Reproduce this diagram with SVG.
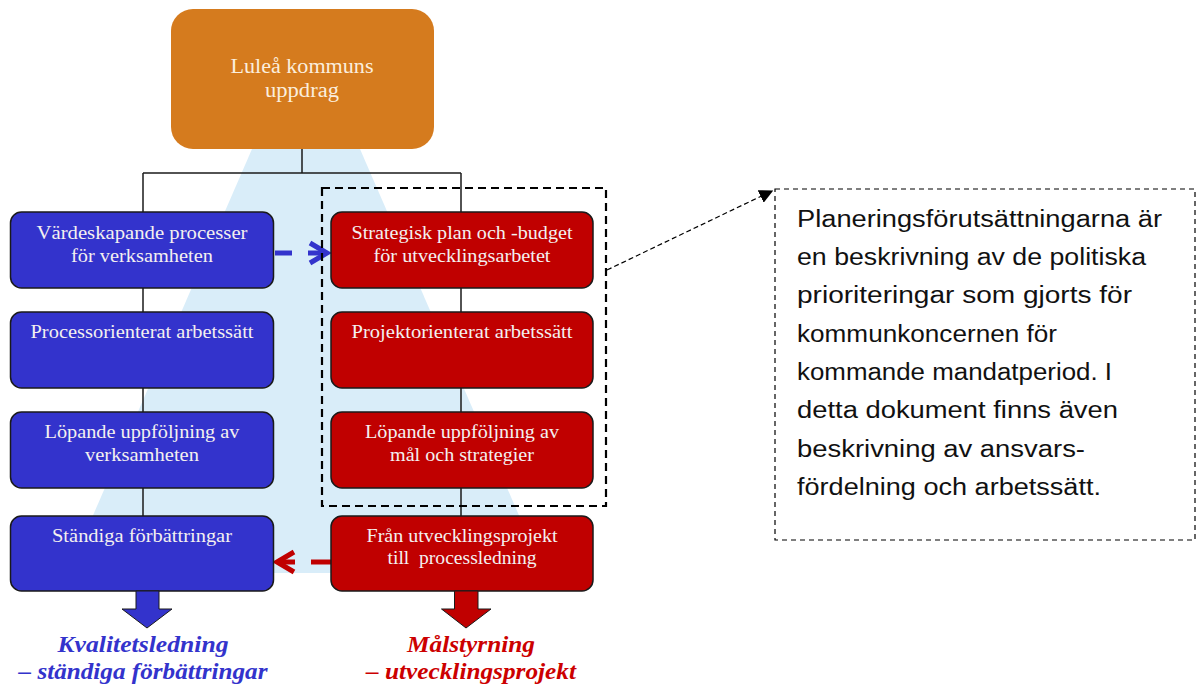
<svg xmlns="http://www.w3.org/2000/svg" width="1197" height="687" viewBox="0 0 1197 687">
<defs>
<style>
.bt{font-family:"Liberation Serif","Times New Roman",serif;font-size:19.5px;fill:#F4F0F0;text-anchor:middle}
.blue{fill:#3333CC;stroke:#1a1a1a;stroke-width:1.5}
.red{fill:#C00000;stroke:#1a1a1a;stroke-width:1.5}
.ln{stroke:#1a1a1a;stroke-width:1.5;fill:none}
.lab{font-family:"Liberation Serif","Times New Roman",serif;font-size:24px;font-style:italic;font-weight:bold;text-anchor:middle}
.note{font-family:"Liberation Sans",Arial,sans-serif;font-size:23px;fill:#111}
</style>
<marker id="ah" viewBox="0 0 10 10" refX="9" refY="5" markerWidth="14" markerHeight="14" markerUnits="userSpaceOnUse" orient="auto">
<path d="M0,0 L10,5 L0,10 z" fill="#000"/>
</marker>
</defs>
<rect width="1197" height="687" fill="#fff"/>
<polygon points="252,149 360,149 544,573 68,573" fill="#D9EDF9"/>
<g id="connectors">
<line class="ln" x1="302" y1="149" x2="302" y2="173"/>
<line class="ln" x1="143" y1="173" x2="461" y2="173"/>
<line class="ln" x1="143" y1="173" x2="143" y2="516"/>
<line class="ln" x1="461" y1="173" x2="461" y2="516"/>
<g stroke="#3333CC" stroke-width="5" fill="none">
<line x1="275" y1="253" x2="292" y2="253"/>
<line x1="308" y1="253" x2="327" y2="253"/>
<polyline points="310,243 327,253 310,263" stroke-linejoin="miter"/>
</g>
<g stroke="#C00000" stroke-width="5" fill="none">
<line x1="331" y1="562" x2="311" y2="562"/>
<line x1="295" y1="562" x2="277" y2="562"/>
<polyline points="294,552 277,562 294,572"/>
</g>
<line x1="607" y1="270" x2="772" y2="191" stroke="#000" stroke-width="1.2" stroke-dasharray="5,3" marker-end="url(#ah)"/>
</g>
<g id="n-top">
<rect x="171" y="9" width="263" height="140" rx="22" fill="#D57B1E"/>
<text class="bt" x="302" y="73" style="font-size:20.5px;fill:#FBEEDD" textLength="143" lengthAdjust="spacingAndGlyphs">Luleå kommuns</text>
<text class="bt" x="302" y="97" style="font-size:20.5px;fill:#FBEEDD" textLength="74" lengthAdjust="spacingAndGlyphs">uppdrag</text>
</g>
<g id="n-b1">
<rect class="blue" x="10.5" y="212" width="263" height="76" rx="11"/>
<text class="bt" x="142" y="239" textLength="211" lengthAdjust="spacingAndGlyphs">Värdeskapande processer</text>
<text class="bt" x="142" y="262" textLength="142" lengthAdjust="spacingAndGlyphs">för verksamheten</text>
</g>
<g id="n-b2">
<rect class="blue" x="10.5" y="312" width="263" height="76" rx="11"/>
<text class="bt" x="142" y="338" textLength="223" lengthAdjust="spacingAndGlyphs">Processorienterat arbetssätt</text>
</g>
<g id="n-b3">
<rect class="blue" x="10.5" y="412" width="263" height="76" rx="11"/>
<text class="bt" x="142" y="438" textLength="195" lengthAdjust="spacingAndGlyphs">Löpande uppföljning av</text>
<text class="bt" x="142" y="461" textLength="114" lengthAdjust="spacingAndGlyphs">verksamheten</text>
</g>
<g id="n-b4">
<rect class="blue" x="10.5" y="516" width="263" height="75" rx="11"/>
<text class="bt" x="142" y="542" textLength="180" lengthAdjust="spacingAndGlyphs">Ständiga förbättringar</text>
</g>
<g id="n-r1">
<rect class="red" x="331" y="212" width="262" height="76" rx="11"/>
<text class="bt" x="462" y="239" textLength="221" lengthAdjust="spacingAndGlyphs">Strategisk plan och -budget</text>
<text class="bt" x="462" y="262" textLength="177" lengthAdjust="spacingAndGlyphs">för utvecklingsarbetet</text>
</g>
<g id="n-r2">
<rect class="red" x="331" y="312" width="262" height="76" rx="11"/>
<text class="bt" x="462" y="338" textLength="221" lengthAdjust="spacingAndGlyphs">Projektorienterat arbetssätt</text>
</g>
<g id="n-r3">
<rect class="red" x="331" y="412" width="262" height="76" rx="11"/>
<text class="bt" x="462" y="438" textLength="194" lengthAdjust="spacingAndGlyphs">Löpande uppföljning av</text>
<text class="bt" x="462" y="461" textLength="144" lengthAdjust="spacingAndGlyphs">mål och strategier</text>
</g>
<g id="n-r4">
<rect class="red" x="331" y="516" width="262" height="75" rx="11"/>
<text class="bt" x="462" y="542" textLength="191" lengthAdjust="spacingAndGlyphs">Från utvecklingsprojekt</text>
<text class="bt" x="462" y="564" textLength="149" lengthAdjust="spacingAndGlyphs">till&#160; processledning</text>
</g>
<g id="n-group">
<rect x="322" y="188" width="284" height="318" fill="none" stroke="#000" stroke-width="2.2" stroke-dasharray="8,5"/>
</g>
<g id="n-arrow-blue">
<polygon points="136,591 159,591 159,609 172,609 147,628 122,609 136,609" fill="#3333CC" stroke="#1a1a1a" stroke-width="1"/>
</g>
<g id="n-arrow-red">
<polygon points="454.5,591 478,591 478,609 491,609 466,628 441.5,609 454.5,609" fill="#C00000" stroke="#1a1a1a" stroke-width="1"/>
</g>
<g id="n-label-blue">
<text class="lab" x="143" y="652" fill="#3333CC" textLength="171" lengthAdjust="spacingAndGlyphs">Kvalitetsledning</text>
<text class="lab" x="143" y="679" fill="#3333CC" textLength="249" lengthAdjust="spacingAndGlyphs">– ständiga förbättringar</text>
</g>
<g id="n-label-red">
<text class="lab" x="471" y="652" fill="#CC0000" textLength="128" lengthAdjust="spacingAndGlyphs">Målstyrning</text>
<text class="lab" x="471" y="679" fill="#CC0000" textLength="210" lengthAdjust="spacingAndGlyphs">– utvecklingsprojekt</text>
</g>
<g id="n-note">
<rect x="775" y="189" width="420" height="351" fill="#fff" stroke="#000" stroke-width="1.2" stroke-dasharray="5,4"/>
<text class="note" x="797" y="227" textLength="365" lengthAdjust="spacingAndGlyphs">Planeringsförutsättningarna är</text>
<text class="note" x="797" y="265" textLength="349" lengthAdjust="spacingAndGlyphs">en beskrivning av de politiska</text>
<text class="note" x="797" y="303" textLength="335" lengthAdjust="spacingAndGlyphs">prioriteringar som gjorts för</text>
<text class="note" x="797" y="342" textLength="260" lengthAdjust="spacingAndGlyphs">kommunkoncernen för</text>
<text class="note" x="797" y="380" textLength="315" lengthAdjust="spacingAndGlyphs">kommande mandatperiod. I</text>
<text class="note" x="797" y="418" textLength="321" lengthAdjust="spacingAndGlyphs">detta dokument finns även</text>
<text class="note" x="797" y="457" textLength="288" lengthAdjust="spacingAndGlyphs">beskrivning av ansvars-</text>
<text class="note" x="797" y="495" textLength="304" lengthAdjust="spacingAndGlyphs">fördelning och arbetssätt.</text>
</g>
</svg>
